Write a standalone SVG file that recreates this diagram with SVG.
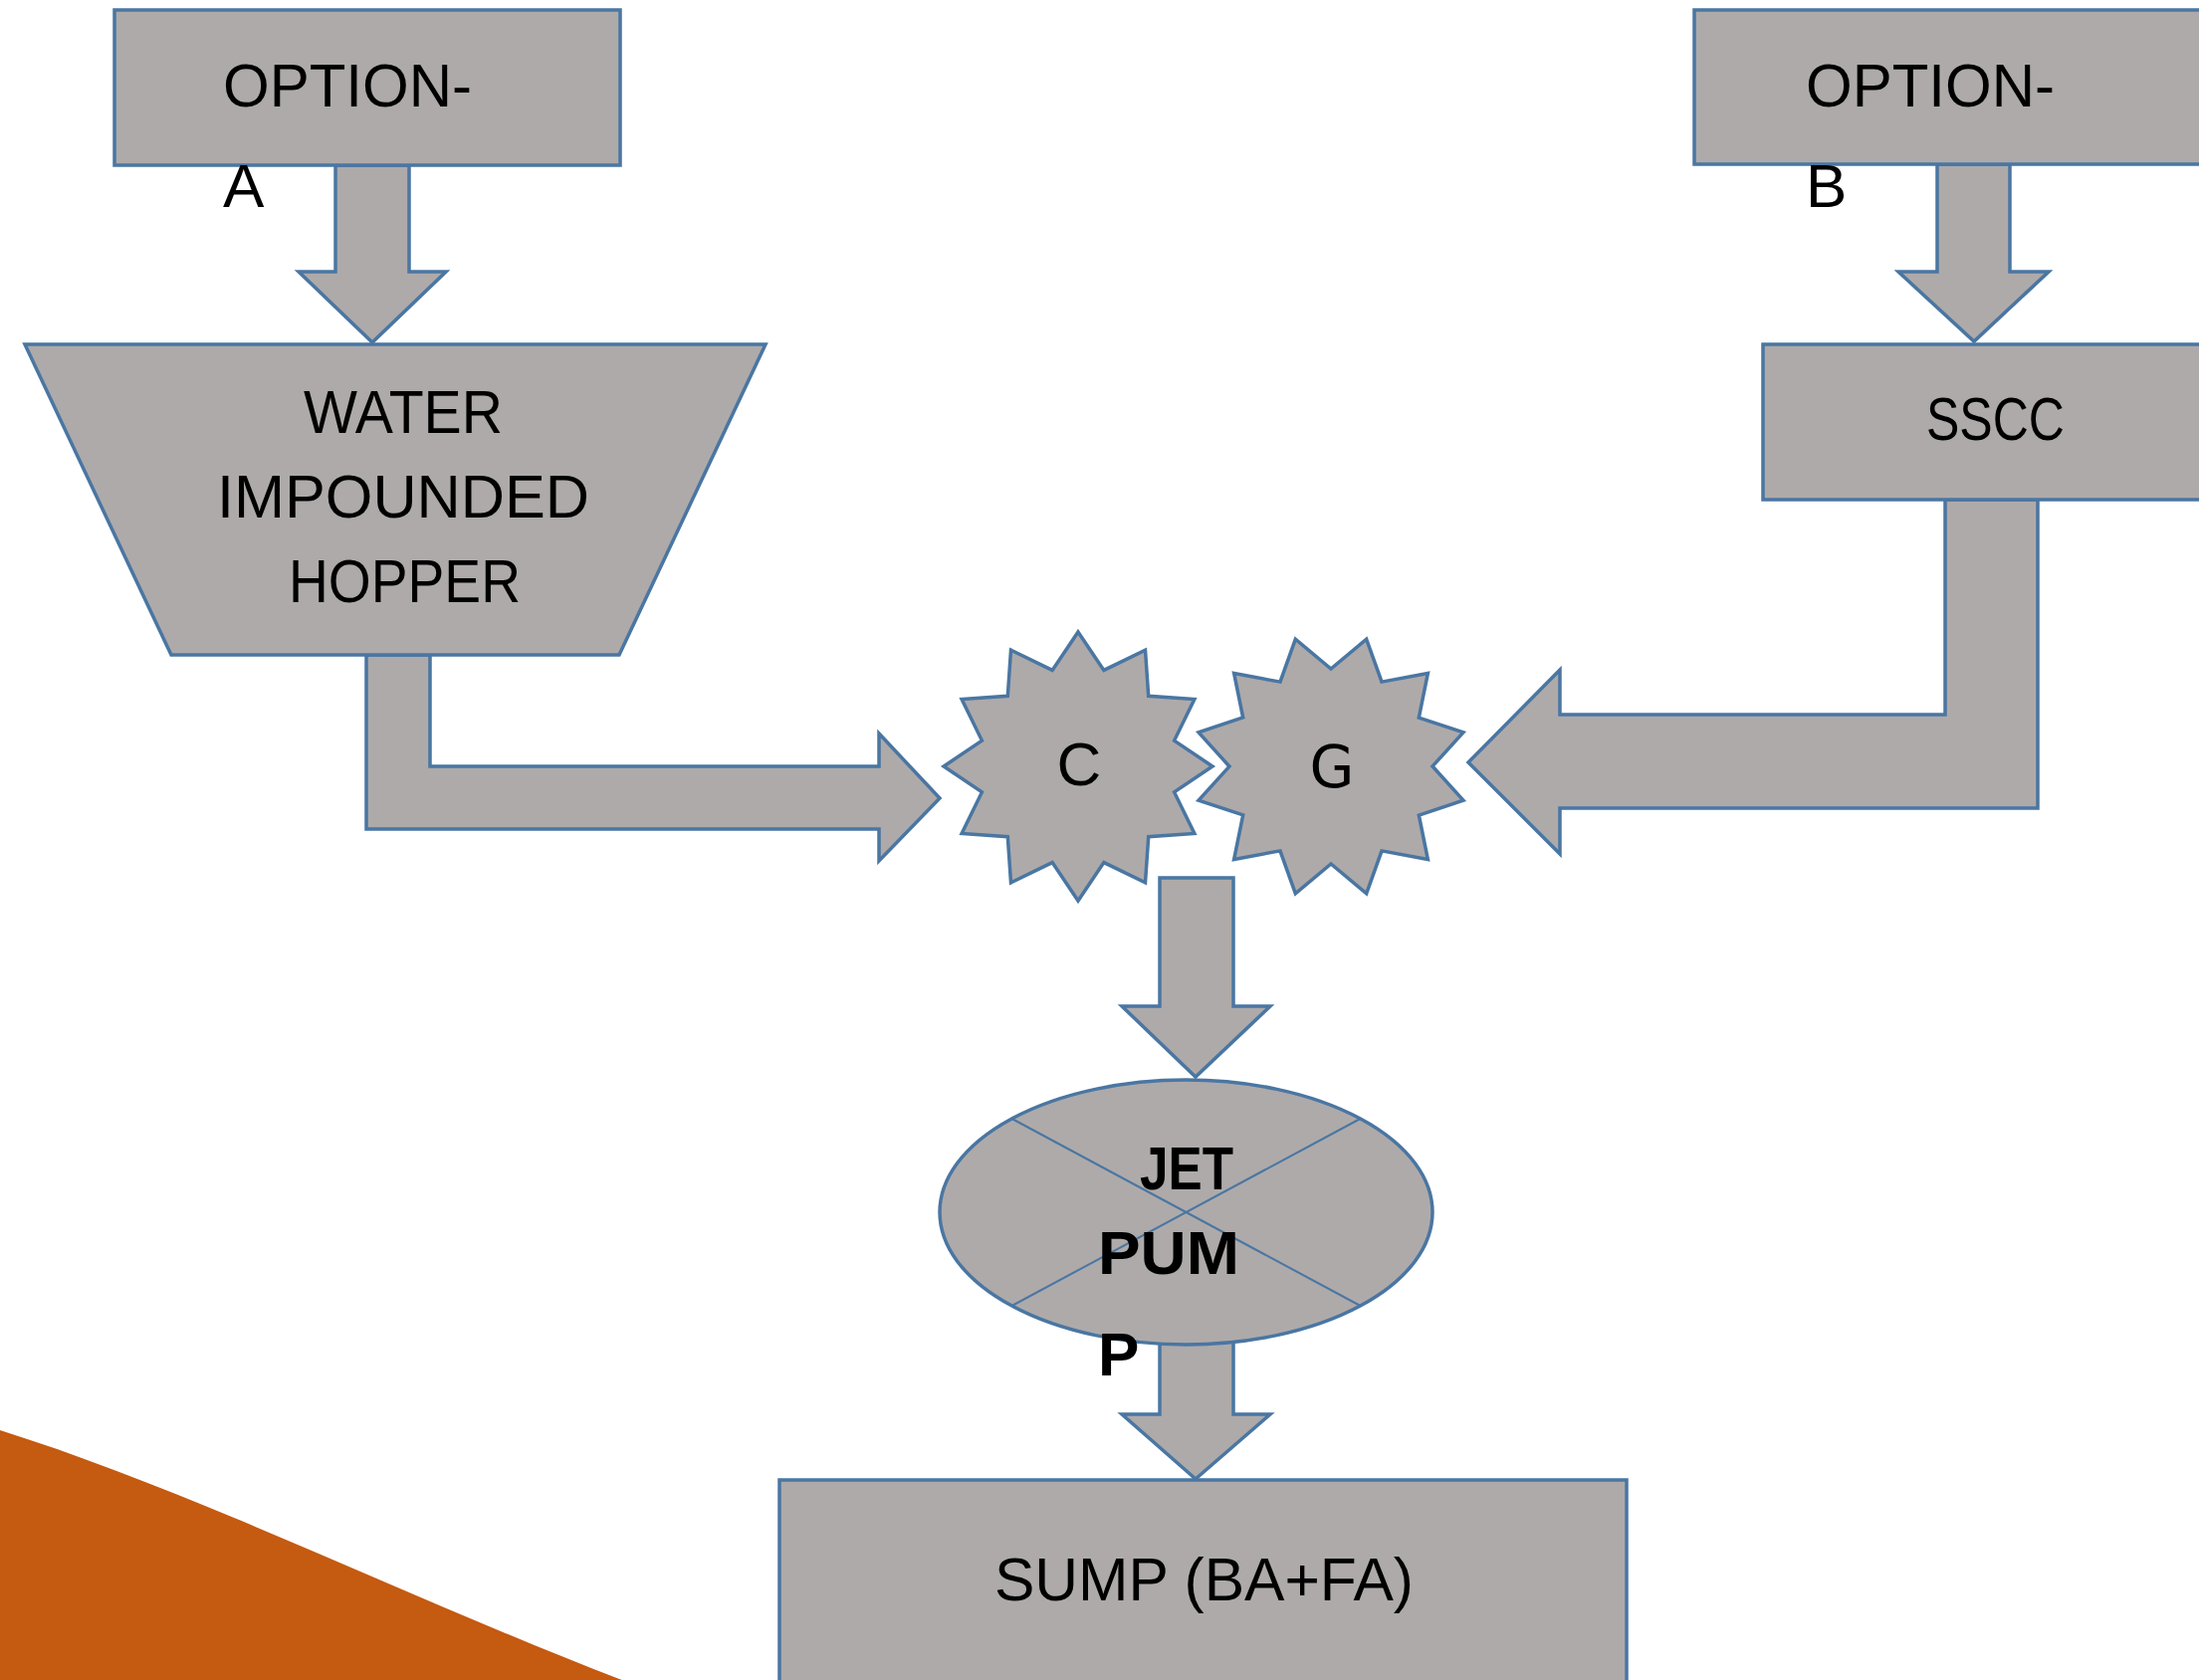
<svg xmlns="http://www.w3.org/2000/svg" xmlns:xlink="http://www.w3.org/1999/xlink" width="2209" height="1688" viewBox="0 0 2209 1688">
<style>
.shape{fill:#AEAAAA;stroke:#4A76A2;stroke-width:3.5;stroke-linejoin:miter}
.thin{fill:none;stroke:#4A76A2;stroke-width:2}
.t{font-family:"Liberation Sans",Arial,sans-serif;font-size:62px;fill:#000}
.b{font-weight:bold}
.m{text-anchor:middle}
</style>
<defs>
<polygon id="star12" points="0,-135 25.9,-96.6 67.5,-116.9 70.7,-70.7 116.9,-67.5 96.6,-25.9 135,0 96.6,25.9 116.9,67.5 70.7,70.7 67.5,116.9 25.9,96.6 0,135 -25.9,96.6 -67.5,116.9 -70.7,70.7 -116.9,67.5 -96.6,25.9 -135,0 -96.6,-25.9 -116.9,-67.5 -70.7,-70.7 -67.5,-116.9 -25.9,-96.6"/>
</defs>
<rect width="2209" height="1688" fill="#FFFFFF"/>
<path id="decor" d="M0,1437 C200,1500 420,1610 630,1690 L0,1690 Z" fill="#C55A11"/>
<g id="connectors">
<polygon class="shape" points="337,166 411,166 411,273 448,273 374,344 300,273 337,273"/>
<polygon class="shape" points="1946,165 2019,165 2019,273 2058,273 1983,343 1907,273 1946,273"/>
<polygon class="shape" points="368,658 432,658 432,770 883,770 883,737 944,802 883,865 883,833 368,833"/>
<polygon class="shape" points="1954,502 2047,502 2047,812 1567,812 1567,858 1475,766 1567,673 1567,718 1954,718"/>
<polygon class="shape" points="1165,882 1239,882 1239,1011 1276,1011 1201,1082 1127,1011 1165,1011"/>
<polygon class="shape" points="1165,1340 1239,1340 1239,1421 1276,1421 1201,1486 1127,1421 1165,1421"/>
</g>
<g id="option-a">
<rect class="shape" x="115" y="10" width="508" height="156"/>
<text class="t" x="224" y="107" textLength="250" lengthAdjust="spacingAndGlyphs">OPTION-</text>
<text class="t" x="224" y="208">A</text>
</g>
<g id="option-b">
<rect class="shape" x="1702" y="10" width="515" height="155"/>
<text class="t" x="1814" y="107" textLength="250" lengthAdjust="spacingAndGlyphs">OPTION-</text>
<text class="t" x="1814" y="208">B</text>
</g>
<g id="hopper">
<polygon class="shape" points="25,346 769,346 622,658 172,658"/>
<text class="t" x="305" y="435" textLength="200" lengthAdjust="spacingAndGlyphs">WATER</text>
<text class="t" x="218" y="520" textLength="374" lengthAdjust="spacingAndGlyphs">IMPOUNDED</text>
<text class="t" x="290" y="605" textLength="233" lengthAdjust="spacingAndGlyphs">HOPPER</text>
</g>
<g id="sscc">
<rect class="shape" x="1771" y="346" width="445" height="156"/>
<text class="t" x="1935" y="442" textLength="139" lengthAdjust="spacingAndGlyphs">SSCC</text>
</g>
<g id="star-c">
<use xlink:href="#star12" href="#star12" class="shape" transform="translate(1083,770)"/>
<text class="t m" x="1084" y="789" font-size="60">C</text>
</g>
<g id="star-g">
<use xlink:href="#star12" href="#star12" class="shape" transform="translate(1337,770) scale(1.02,0.98) rotate(15)"/>
<text class="t m" x="1338" y="791" style="font-family:'DejaVu Sans',sans-serif;font-size:58px">G</text>
</g>
<g id="jet-pump">
<ellipse class="shape" cx="1191.5" cy="1218" rx="247.5" ry="133"/>
<line class="thin" x1="1016.5" y1="1124" x2="1366.5" y2="1312"/>
<line class="thin" x1="1366.5" y1="1124" x2="1016.5" y2="1312"/>
<text class="t b" x="1145" y="1195" textLength="94" lengthAdjust="spacingAndGlyphs">JET</text>
<text class="t b" x="1103" y="1280" textLength="142" lengthAdjust="spacingAndGlyphs">PUM</text>
<text class="t b" x="1103" y="1382">P</text>
</g>
<g id="sump">
<rect class="shape" x="783" y="1487" width="851" height="210"/>
<text class="t" x="999" y="1608" textLength="421" lengthAdjust="spacingAndGlyphs">SUMP (BA+FA)</text>
</g>
</svg>
